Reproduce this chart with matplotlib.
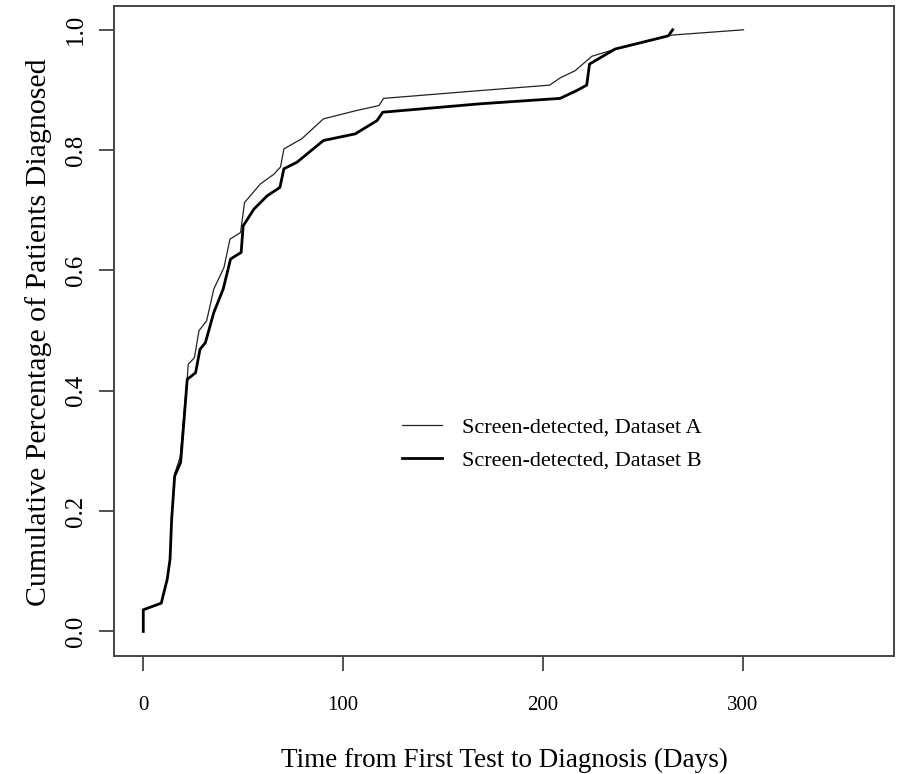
import matplotlib
matplotlib.use("Agg")
import matplotlib.pyplot as plt

plt.rcParams["font.family"] = ["Liberation Serif", "DejaVu Serif"]

# cumulative curves (days, fraction diagnosed)
days_a = [0, 0, 9, 12, 13.4, 14.2, 15.7, 18.5, 20.3, 22, 22.5, 25.6, 27.9, 31.7,
          35.3, 40.4, 43.4, 48.7, 50.7, 58.7, 65.4, 68.7, 70.4, 79.4, 90.2, 107,
          118, 120.3, 168.7, 203.4, 208.7, 216.2, 224.6, 235.5, 254, 263.8, 300.5]
frac_a = [0, 0.036, 0.047, 0.087, 0.12, 0.186, 0.262, 0.29, 0.36, 0.42, 0.444,
          0.455, 0.5, 0.516, 0.569, 0.605, 0.652, 0.663, 0.713, 0.744, 0.760,
          0.772, 0.802, 0.819, 0.852, 0.866, 0.874, 0.886, 0.899, 0.908, 0.92,
          0.932, 0.956, 0.967, 0.982, 0.991, 1.0]

days_b = [0, 0, 9, 12, 13.4, 14.2, 15.7, 18.7, 20.3, 22, 26.2, 28.4, 31.1, 35.3,
          40, 43.7, 49, 50, 55.4, 62, 68.4, 70.4, 77, 90.2, 106.1, 117, 119.9,
          168.7, 208.7, 217, 222, 223.4, 236.2, 262.9, 265]
frac_b = [0, 0.036, 0.047, 0.087, 0.12, 0.186, 0.258, 0.281, 0.347, 0.419, 0.43,
          0.469, 0.48, 0.53, 0.569, 0.619, 0.63, 0.674, 0.702, 0.724, 0.738,
          0.769, 0.78, 0.816, 0.827, 0.849, 0.863, 0.877, 0.886, 0.899, 0.908,
          0.943, 0.968, 0.990, 1.0]

x_ticks = [0, 100, 200, 300]
y_ticks = [0.0, 0.2, 0.4, 0.6, 0.8, 1.0]
labels = ["Screen-detected, Dataset A", "Screen-detected, Dataset B"]

fig = plt.figure(figsize=(8.98, 7.74), dpi=100)
ax = fig.add_axes([0.1273, 0.1531, 0.8686, 0.8395])

ax.plot(days_a, frac_a, color="#222222", lw=0.9, label=labels[0])
ax.plot(days_b, frac_b, color="black", lw=2.0, label=labels[1])

ax.set_xlim(-14.5, 376)
ax.set_ylim(-0.04, 1.04)

ax.set_xticks(x_ticks)
ax.set_xticklabels([str(t) for t in x_ticks])
ax.set_yticks(y_ticks)
ax.set_yticklabels([f"{t:.1f}" for t in y_ticks], rotation=90, va="center")
ax.tick_params(axis="both", length=11, width=1.2, color="#333333")
ax.tick_params(axis="x", labelsize=15, pad=18)
ax.tick_params(axis="y", labelsize=18, pad=9)

for s in ax.spines.values():
    s.set_color("#444444")
    s.set_linewidth(1.4)

ax.set_xlabel("Time from First Test to Diagnosis (Days)", fontsize=19.5, va="center")
ax.xaxis.set_label_coords(0.5, -0.162)
ax.set_ylabel("Cumulative Percentage of Patients Diagnosed", fontsize=21.5, va="center")
ax.yaxis.set_label_coords(-0.0975, 0.497)

ax.legend(loc="center left", bbox_to_anchor=(401.7 / 898, 1 - 444 / 774),
          bbox_transform=fig.transFigure, frameon=False, fontsize=16,
          handlelength=1.8, handletextpad=0.9, labelspacing=0.55, borderpad=0,
          borderaxespad=0)

fig.savefig("out.png", dpi=100)
